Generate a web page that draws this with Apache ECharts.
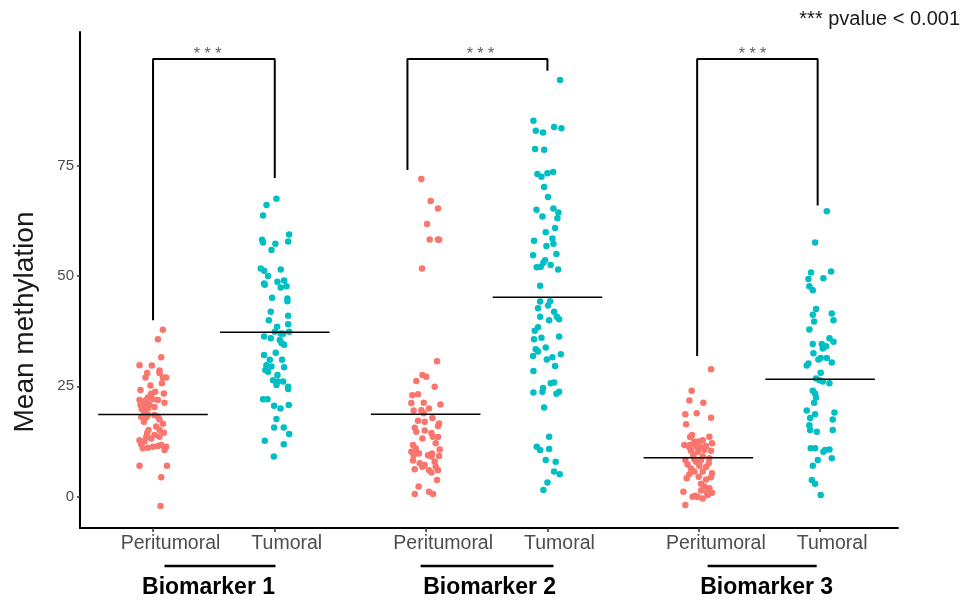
<!DOCTYPE html>
<html><head><meta charset="utf-8">
<script src="https://cdn.jsdelivr.net/npm/echarts@6/dist/echarts.min.js"></script>
<style>html,body{margin:0;padding:0;background:#fff}#c{width:968px;height:605px}</style>
</head><body><div id="c"></div>
<script>
const categories = ['Peritumoral','Tumoral','Peritumoral','Tumoral','Peritumoral','Tumoral'];
const catPos = [1, 2, 3.24, 4.24, 5.48, 6.48];
const yTicks = [0, 25, 50, 75];
const biomarkers = ['Biomarker 1','Biomarker 2','Biomarker 3'];
const biomarkerX = [1.456, 3.765, 6.041];
const underlines = [[1.094,2.006],[3.198,4.29],[5.556,6.452]];
const means = [18.6, 37.25, 18.7, 45.2, 8.8, 26.6];
const bracketX = [[1,2],[3.09,4.24],[5.47,6.46]];
const bracketEnds = [[40.0,72.2],[74.0,96.5],[31.9,66.0]];
const bracketTop = 99.2;
const starX = [1.448, 3.69, 5.925];
const starY = 100.2;
const sigText = '* * *';
const pLabel = '*** pvalue < 0.001';
const yTitle = 'Mean methylation';

// [jitter offset from category, value]
const b1Peri = [[0.081,37.8],[0.040,35.7],[0.067,31.6],[-0.111,29.8],[-0.010,29.7],[0.053,28.6],[-0.048,28.0],[-0.062,27.0],[0.053,28.0],[0.081,27.0],[0.108,27.0],[-0.021,25.2],[0.073,25.7],[-0.103,24.2],[0.018,23.8],[-0.015,23.3],[0.089,23.4],[-0.042,22.5],[-0.111,21.9],[-0.084,21.5],[-0.056,21.9],[-0.001,22.1],[0.040,21.9],[-0.103,20.8],[-0.070,20.8],[-0.029,20.8],[0.094,21.3],[-0.092,19.8],[-0.042,20.0],[0.012,20.3],[-0.070,19.3],[-0.097,18.1],[-0.056,18.0],[-0.042,18.5],[0.012,18.5],[0.040,18.1],[0.053,17.5],[-0.075,17.0],[0.081,16.5],[0.026,15.9],[-0.037,15.1],[0.053,15.1],[-0.048,14.4],[0.089,14.5],[0.012,14.0],[-0.056,13.5],[0.053,13.6],[-0.111,12.8],[-0.015,13.2],[-0.097,11.9],[-0.070,12.5],[-0.084,11.0],[-0.042,11.1],[-0.001,11.3],[0.040,11.5],[0.067,11.7],[0.108,11.3],[0.094,10.6],[-0.111,7.0],[0.114,7.0],[0.067,4.4],[0.062,-2.1]];
const b1Tum = [[0.014,67.5],[-0.068,66.1],[-0.096,63.7],[-0.104,58.2],[-0.096,57.6],[0.005,57.3],[-0.027,55.9],[0.118,59.4],[0.110,57.8],[-0.115,51.7],[-0.088,51.2],[-0.055,50.0],[0.049,51.5],[-0.088,48.3],[-0.082,48.0],[0.022,48.7],[0.077,49.0],[0.049,47.4],[0.096,47.7],[-0.022,45.1],[0.104,44.9],[0.104,44.3],[-0.033,41.9],[-0.049,40.0],[0.110,41.0],[0.110,39.1],[0.019,38.5],[0.000,37.4],[0.049,37.0],[0.118,37.4],[-0.088,36.3],[-0.033,35.9],[0.068,36.9],[0.041,35.5],[0.055,34.8],[0.077,34.4],[-0.088,32.1],[0.008,32.6],[-0.041,31.0],[0.060,31.0],[-0.068,29.8],[-0.027,29.5],[-0.077,28.7],[0.077,29.3],[-0.055,28.3],[0.022,27.6],[-0.014,26.4],[0.027,26.1],[0.068,26.1],[0.014,25.3],[0.110,24.9],[0.110,24.4],[-0.096,22.1],[-0.060,22.1],[-0.005,20.6],[0.047,20.0],[0.115,20.8],[0.014,17.6],[-0.005,15.7],[0.074,15.7],[0.118,14.2],[-0.082,12.7],[0.074,11.9],[-0.008,9.1]];
const b2Peri = [[-0.036,72.0],[0.041,67.0],[0.101,65.3],[0.011,61.8],[0.033,58.3],[0.101,58.3],[0.110,58.2],[-0.030,51.7],[0.093,30.7],[-0.027,27.6],[0.005,27.2],[-0.077,26.2],[0.074,24.9],[-0.110,23.0],[-0.063,23.2],[-0.118,21.2],[-0.016,21.3],[0.121,20.9],[0.027,20.0],[-0.099,19.5],[-0.036,19.6],[-0.016,18.9],[-0.063,17.2],[-0.008,17.0],[0.055,17.8],[0.110,16.6],[0.101,16.0],[-0.090,15.6],[-0.077,14.7],[-0.008,15.0],[-0.027,13.2],[0.047,14.4],[0.060,13.6],[0.101,13.5],[0.082,12.1],[-0.104,11.7],[-0.082,11.0],[-0.118,10.2],[-0.077,10.0],[-0.099,9.4],[-0.055,9.8],[0.019,9.4],[0.052,9.8],[0.115,10.7],[0.110,9.2],[0.047,9.1],[-0.104,8.2],[-0.049,7.6],[-0.008,7.2],[0.074,7.9],[0.082,6.8],[-0.090,6.2],[-0.027,6.8],[0.027,6.0],[0.047,5.5],[0.101,6.0],[0.093,3.8],[-0.058,2.3],[-0.090,0.6],[0.027,1.1],[0.060,0.6]];
const b2Tum = [[0.104,94.4],[-0.115,85.2],[0.055,83.8],[0.115,83.5],[-0.096,82.9],[-0.036,82.5],[-0.101,78.8],[-0.027,78.6],[-0.082,73.1],[-0.049,72.5],[0.000,73.3],[0.047,73.6],[-0.027,70.2],[0.005,67.9],[-0.090,65.0],[-0.041,63.5],[0.049,65.3],[0.090,64.4],[0.082,63.1],[-0.014,59.9],[0.063,60.9],[0.041,58.5],[-0.110,58.0],[-0.008,56.8],[0.049,57.3],[-0.118,54.7],[-0.019,53.6],[0.074,55.0],[-0.088,52.0],[-0.055,52.1],[-0.033,53.0],[0.027,52.5],[0.088,51.5],[-0.060,47.8],[-0.060,44.2],[0.022,44.3],[-0.077,42.7],[0.005,43.3],[0.055,41.9],[-0.060,40.8],[0.014,40.0],[0.077,40.8],[0.096,40.2],[-0.077,38.4],[-0.104,37.6],[-0.110,35.7],[-0.049,36.0],[0.096,36.3],[-0.096,33.4],[-0.077,32.9],[-0.014,33.8],[-0.118,31.9],[-0.005,31.1],[0.041,31.6],[0.110,32.3],[0.063,29.6],[-0.115,28.5],[0.027,25.7],[0.055,25.9],[-0.036,24.6],[-0.041,23.8],[-0.115,23.6],[-0.027,20.2],[0.074,23.3],[0.096,23.8],[0.014,13.6],[-0.088,11.3],[-0.060,10.6],[0.014,10.8],[-0.014,8.3],[0.068,7.9],[0.055,5.7],[0.101,5.1],[0.000,3.2],[-0.033,1.5]];
const b3Peri = [[0.104,28.9],[-0.055,24.0],[-0.074,21.8],[0.041,21.3],[-0.107,18.7],[-0.014,18.9],[0.104,17.9],[-0.101,16.4],[-0.052,14.0],[-0.068,13.5],[0.090,13.6],[-0.115,11.7],[-0.033,12.5],[0.003,12.5],[0.036,12.8],[-0.074,11.2],[-0.019,11.5],[0.022,11.2],[0.063,11.5],[0.112,12.1],[-0.060,10.4],[-0.005,10.2],[0.049,10.6],[0.104,10.4],[-0.107,8.3],[-0.041,9.4],[0.036,9.1],[0.090,8.7],[-0.088,7.3],[-0.019,7.9],[0.022,8.3],[0.085,7.6],[-0.060,6.4],[0.008,7.0],[-0.033,5.7],[-0.074,5.1],[0.036,5.7],[0.112,5.3],[-0.096,4.2],[0.003,4.5],[0.063,3.9],[0.104,4.4],[0.022,2.9],[0.049,2.3],[0.090,1.9],[-0.123,1.1],[-0.047,0.0],[-0.005,-0.1],[0.036,-0.4],[0.077,0.4],[0.112,0.9],[-0.107,-1.9],[-0.033,8.5],[0.063,6.7],[0.022,1.4],[0.068,1.0],[-0.025,0.2],[-0.068,11.7]];
const b3Tum = [[0.055,64.7],[-0.041,57.6],[-0.074,50.8],[0.090,51.0],[-0.096,49.3],[0.027,49.5],[-0.088,47.7],[-0.060,46.8],[-0.033,42.5],[-0.060,41.2],[0.096,41.5],[0.110,40.0],[-0.049,39.7],[-0.088,37.9],[0.077,35.9],[0.110,35.1],[-0.060,34.6],[0.014,34.6],[0.049,34.1],[0.022,33.6],[-0.055,32.5],[0.005,31.4],[-0.014,31.1],[0.055,31.4],[0.096,30.4],[-0.096,30.2],[-0.110,29.7],[0.005,28.1],[-0.033,26.8],[-0.005,26.4],[0.022,26.1],[0.077,25.7],[-0.060,24.0],[-0.041,23.4],[-0.033,22.5],[-0.049,21.3],[-0.110,19.5],[-0.041,18.7],[0.118,19.1],[-0.082,17.8],[0.104,17.5],[-0.088,16.2],[-0.082,15.1],[-0.027,14.7],[0.104,15.1],[-0.077,11.0],[-0.041,11.0],[0.041,10.6],[0.077,10.7],[0.027,10.2],[-0.019,8.3],[0.096,8.7],[-0.060,7.0],[-0.068,3.8],[-0.041,2.9],[0.005,0.4]];

const groups = [b1Peri, b1Tum, b2Peri, b2Tum, b3Peri, b3Tum];
const FONT = '"Liberation Sans", Arial, Helvetica, sans-serif';
const RED = '#F8766D', TEAL = '#00BFC4';

const periData = [], tumData = [];
groups.forEach((g, i) => {
  const target = (i % 2 === 0) ? periData : tumData;
  g.forEach(p => target.push([catPos[i] + p[0], p[1]]));
});

const chart = echarts.init(document.getElementById('c'), null, {renderer: 'canvas'});

const series = [
  {type: 'scatter', data: periData, symbolSize: 6.5, itemStyle: {color: RED, opacity: 1}, z: 2, silent: true},
  {type: 'scatter', data: tumData, symbolSize: 6.5, itemStyle: {color: TEAL, opacity: 1}, z: 2, silent: true}
];
means.forEach((m, i) => {
  series.push({type: 'line', data: [[catPos[i] - 0.45, m], [catPos[i] + 0.45, m]], symbol: 'none',
    lineStyle: {color: '#000', width: 1.5}, z: 5, silent: true});
});
bracketX.forEach((bx, i) => {
  series.push({type: 'line', data: [[bx[0], bracketEnds[i][0]], [bx[0], bracketTop], [bx[1], bracketTop], [bx[1], bracketEnds[i][1]]],
    symbol: 'none', lineStyle: {color: '#000', width: 2}, z: 5, silent: true, clip: false});
});
series.push({type: 'scatter', symbolSize: 0, silent: true, z: 6,
  data: starX.map(x => [x, starY]),
  label: {show: true, position: 'inside', formatter: sigText, fontSize: 16, color: '#333', fontFamily: FONT}});

const labelRich = {
  p: {fontSize: 19.5, color: '#4d4d4d', fontFamily: FONT, padding: [0, 0, 0, 35]},
  t: {fontSize: 19.5, color: '#4d4d4d', fontFamily: FONT, padding: [0, 0, 0, 24]}
};

chart.setOption({
  animation: false,
  backgroundColor: '#fff',
  grid: {left: 80, right: 70, top: 32, bottom: 77, containLabel: false},
  xAxis: {
    type: 'value', min: 0.4, max: 7.12,
    axisLine: {show: true, onZero: false, lineStyle: {color: '#000', width: 2}},
    axisTick: {show: true, customValues: catPos, length: 4, lineStyle: {color: '#333', width: 1.5}},
    axisLabel: {show: true, customValues: catPos, margin: 6,
      formatter: v => { const i = catPos.findIndex(c => Math.abs(c - v) < 1e-6); return i < 0 ? '' : (i % 2 === 0 ? '{p|' : '{t|') + categories[i] + '}'; },
      rich: labelRich},
    splitLine: {show: false}
  },
  yAxis: {
    type: 'value', min: -7.1, max: 105.3,
    axisLine: {show: true, onZero: false, lineStyle: {color: '#000', width: 2}},
    axisTick: {show: true, customValues: yTicks, length: 3, lineStyle: {color: '#333', width: 1.5}},
    axisLabel: {show: true, customValues: yTicks, margin: 6, fontSize: 15, color: '#4d4d4d', fontFamily: FONT},
    splitLine: {show: false}
  },
  series: series
});

const toX = v => chart.convertToPixel({xAxisIndex: 0}, v);
const graphics = [
  {type: 'text', x: 960, y: 19, style: {text: pLabel, textAlign: 'right', textVerticalAlign: 'middle', fontSize: 20, fontFamily: FONT, fill: '#1a1a1a'}},
  {type: 'text', x: 25, y: 322, rotation: Math.PI / 2, style: {text: yTitle, textAlign: 'center', textVerticalAlign: 'middle', fontSize: 28, fontFamily: FONT, fill: '#1a1a1a'}}
];
underlines.forEach((u, i) => {
  graphics.push({type: 'line', shape: {x1: toX(u[0]), y1: 566, x2: toX(u[1]), y2: 566}, style: {stroke: '#000', lineWidth: 2.5}});
  graphics.push({type: 'text', x: toX(biomarkerX[i]), y: 588, style: {text: biomarkers[i], textAlign: 'center', textVerticalAlign: 'middle', fontSize: 23, fontWeight: 'bold', fontFamily: FONT, fill: '#000'}});
});
chart.setOption({graphic: graphics});
</script></body></html>
